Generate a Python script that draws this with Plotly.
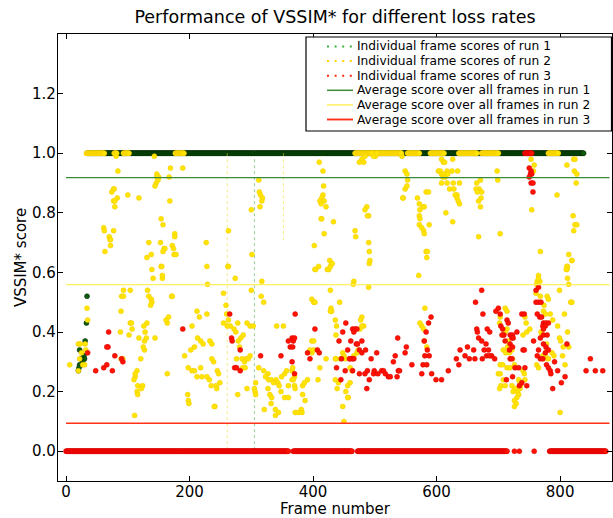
import plotly.graph_objects as go

# ---------------- data ----------------
# Isolated frame scores (frame number, VSSIM* score) for each run
run1_points = [(34, .52), (33, .43), (31, .37), (22, .34), (29, .32), (30, .31), (25, .29),
               (22, .29), (21, .28), (20, .27), (27, .30), (24, .31)]

run2_points = [
    (6, .29), (20, .36), (23, .36), (22, .31), (32, .34), (34, .48), (35, .44), (27, .29), (30, .29),
    (31, .36), (20, .27), (25, .33),
    (81, .99), (84, .94), (77, .88), (78, .88), (74, .87), (83, .85), (77, .84), (79, .84), (79, .82),
    (100, .86), (118, .85), (61, .75), (62, .74), (77, .74), (70, .72), (71, .71), (72, .71), (72, .69),
    (63, .67), (143, .99), (147, .93), (150, .92), (147, .92), (149, .91), (146, .90), (144, .89),
    (169, .95), (167, .92), (168, .84), (189, .95), (154, .78), (157, .76), (176, .73), (176, .72),
    (153, .70), (134, .70), (159, .68), (160, .68), (172, .69), (174, .68), (157, .67), (138, .66),
    (131, .65), (175, .66), (178, .66), (154, .62), (139, .61), (141, .58), (156, .58),
    (227, .70), (263, .74), (262, .62), (274, .58), (301, .66), (300, .81), (312, .91), (313, .87),
    (315, .86), (318, .85), (317, .84), (314, .82),
    (93, .54), (90, .52), (93, .52), (104, .54), (89, .47), (104, .43), (106, .43), (107, .41),
    (102, .39), (88, .40), (89, .31), (92, .31),
    (132, .54), (134, .52), (138, .51), (139, .50), (137, .49), (131, .43), (126, .42), (128, .40),
    (118, .38), (127, .37), (130, .38), (127, .34), (125, .35), (121, .31), (144, .38),
    (115, .27), (112, .25), (110, .24), (112, .26), (124, .22), (122, .21), (116, .22), (115, .20),
    (116, .19), (111, .12),
    (155, .62), (156, .59), (164, .43), (162, .44), (166, .45), (171, .52), (172, .52), (164, .26),
    (204, .42), (212, .47), (216, .45), (228, .46), (208, .35), (202, .34), (218, .37), (222, .36),
    (213, .38), (233, .37), (236, .36), (192, .32), (198, .28), (204, .27), (208, .27), (212, .25),
    (220, .25), (228, .25), (232, .24), (235, .22), (218, .28), (239, .30), (236, .31), (245, .27),
    (247, .26), (249, .23), (243, .22), (244, .21), (241, .15), (240, .15), (197, .19), (198, .17),
    (199, .16),
    (228, .62), (229, .56), (255, .53), (259, .49), (260, .46), (263, .44), (266, .42), (261, .42),
    (255, .43), (263, .62), (272, .41), (275, .40), (278, .43), (283, .38), (287, .39), (279, .37),
    (281, .35), (276, .31), (293, .43), (298, .42), (285, .31), (289, .30), (292, .31), (295, .31),
    (298, .32), (286, .28), (290, .28), (278, .19), (293, .21), (305, .21), (306, .20), (307, .19),
    (307, .23), (303, .42), (300, .54), (316, .52), (320, .50), (317, .57),
    (312, .28), (320, .27), (327, .26), (323, .25), (328, .24), (332, .24), (336, .23), (327, .21),
    (330, .19), (333, .18), (332, .16), (339, .14), (321, .14), (339, .12), (344, .13), (341, .42),
    (352, .42), (340, .24), (343, .23), (345, .22), (348, .20), (349, .25), (354, .26), (357, .27),
    (354, .18), (360, .18), (360, .22), (366, .24), (366, .27), (367, .28), (370, .25), (368, .24),
    (370, .22), (371, .21), (371, .13), (376, .13), (381, .14), (382, .13), (383, .19), (387, .17),
    (383, .22), (386, .23), (391, .24), (395, .34), (398, .33), (401, .34), (398, .37), (401, .37),
    (408, .24), (411, .28), (421, .31), (398, .51), (401, .50), (403, .50), (403, .61), (409, .62),
    (430, .47), (429, .48), (425, .61), (430, .63),
    (427, .64), (491, .63), (571, .59), (466, .57), (465, .56), (490, .55), (428, .54), (428, .47),
    (443, .50), (436, .44), (438, .42), (437, .39), (479, .45), (477, .44), (482, .42), (479, .42),
    (476, .41), (473, .34), (471, .33), (466, .32), (448, .33), (450, .32), (444, .31), (452, .31),
    (437, .31), (436, .31), (460, .28), (463, .27), (436, .24), (441, .23), (439, .21), (456, .22),
    (453, .20), (457, .18), (456, .18), (460, .23), (448, .15), (450, .10),
    (581, .48), (576, .42), (579, .41), (580, .37), (584, .35), (573, .43),
    (711, .48), (714, .47), (703, .45), (702, .43), (714, .41), (711, .40), (708, .39), (716, .37),
    (719, .35), (722, .34), (718, .33), (715, .35), (708, .34), (712, .33), (703, .29), (707, .29),
    (714, .28), (719, .28), (723, .31), (726, .29), (700, .26), (703, .26), (704, .22), (702, .21),
    (708, .24), (711, .22), (722, .22), (727, .21), (724, .20), (731, .20), (735, .21), (733, .24),
    (735, .23), (736, .22), (733, .19), (730, .18), (726, .17), (729, .16), (726, .15), (740, .27),
    (742, .26), (743, .24), (746, .40), (745, .43), (743, .45), (751, .41), (740, .39),
    (765, .59), (767, .57), (763, .57), (762, .56), (761, .53), (768, .52), (773, .47), (776, .46),
    (779, .52), (781, .51), (774, .49), (769, .40), (770, .39), (778, .36), (779, .34), (776, .32),
    (772, .32), (762, .29), (765, .28), (773, .31), (781, .31), (787, .33), (790, .32), (784, .46),
    (788, .44), (796, .42), (799, .38), (801, .37), (804, .32), (808, .29), (805, .35), (812, .40),
    (807, .46), (814, .35), (812, .58), (814, .56), (800, .13), (817, .50), (819, .50), (811, .61),
    (812, .62), (819, .64), (799, .54),
    (410, .97), (416, .94), (417, .89), (416, .86), (414, .85), (411, .84), (413, .83), (418, .84),
    (421, .82), (413, .78), (414, .78), (433, .77), (418, .73), (402, .69), (404, .61), (423, .61),
    (425, .61), (428, .62), (431, .63),
    (479, .98), (475, .97), (482, .97), (484, .99), (495, 1.0), (501, .99), (503, 1.0), (498, .99),
    (487, .82), (484, .81), (490, .79), (488, .79), (468, .74), (469, .72), (490, .70), (492, .64),
    (491, .67),
    (544, .99), (542, 1.0), (549, .94), (552, .93), (553, .91), (549, .88), (552, .89), (546, .85),
    (545, .85), (569, .85), (572, .83), (573, .81), (578, .82), (580, .82), (583, .87), (587, .87),
    (572, .79), (573, .78), (572, .76), (576, .75), (579, .74), (580, .73), (588, .76), (583, .67),
    (585, .67), (584, .65),
    (608, .98), (611, .97), (613, .97), (626, .98), (603, .94), (606, .94), (608, .93), (611, .93),
    (617, .94), (625, .94), (634, .94), (610, .92), (614, .92), (618, .93), (608, .90), (617, .90),
    (627, .90), (637, .90), (621, .88), (628, .88), (633, .86), (630, .86), (633, .85), (635, .84),
    (637, .83), (615, .80), (626, .77),
    (665, .90), (671, .91), (669, .88), (673, .87), (672, .85), (668, .84), (671, .82), (664, .88),
    (666, .87), (698, .94), (699, .91), (668, .72), (703, .73),
    (753, .98), (758, .96), (757, .94), (754, .81), (768, .67), (765, .58), (795, .86), (811, .96),
    (822, .98), (824, .98), (823, .94), (827, .93), (826, .90), (821, .79), (824, .76), (827, .76),
    (822, .74), (814, .66), (819, .64), (811, .62), (810, .61),
]

run3_points = [
    (35, .33), (48, .27), (61, .28), (66, .29), (69, .40), (68, .35), (66, .35), (75, .27), (79, .32),
    (92, .30), (90, .31), (189, .41), (265, .46), (268, .38), (269, .37), (282, .34), (273, .28),
    (276, .28), (282, .27), (315, .32), (348, .32), (371, .46), (360, .37), (366, .38), (368, .37),
    (370, .38), (363, .35), (367, .35), (366, .30), (370, .26), (391, .33), (395, .31), (403, .41),
    (407, .34), (410, .33),
    (673, .54), (663, .50), (675, .46), (453, .43), (464, .41), (468, .41), (471, .41), (466, .40),
    (448, .40), (442, .37), (461, .37), (470, .36), (472, .36), (479, .37), (475, .34), (479, .33),
    (485, .34), (456, .34), (460, .31), (464, .31), (466, .31), (459, .31), (446, .31), (438, .28),
    (452, .27), (464, .27), (475, .26), (484, .26), (494, .31), (503, .33), (488, .27), (499, .27),
    (498, .26), (505, .26), (511, .27), (514, .27), (517, .26), (522, .25), (525, .25), (536, .25),
    (538, .27), (540, .27), (530, .30), (533, .32), (537, .38), (551, .35), (549, .33), (560, .29),
    (491, .24), (487, .21), (445, .24), (578, .29), (576, .26), (584, .29), (580, .37), (585, .34),
    (583, .40), (587, .43), (591, .45), (581, .32), (588, .32), (592, .26), (599, .24), (608, .24),
    (619, .27), (632, .31), (636, .29), (638, .34), (646, .32), (650, .35), (653, .31), (660, .34),
    (665, .41), (666, .40), (662, .31), (668, .38), (673, .37), (674, .31), (677, .34), (681, .32),
    (684, .34), (680, .36), (682, .41), (686, .40), (689, .32), (694, .31), (686, .32), (696, .47),
    (700, .48), (703, .46), (704, .42), (707, .41), (709, .39), (706, .39), (714, .44), (716, .43),
    (711, .37), (719, .39), (723, .39), (722, .38), (724, .38), (719, .36), (718, .34), (723, .35),
    (719, .31), (722, .31), (727, .28), (730, .40), (713, .24), (723, .25), (733, .28), (734, .22),
    (738, .23), (740, .34), (742, .34), (743, .28), (746, .22), (738, .46), (742, .46), (757, .37),
    (761, .54), (765, .55), (761, .50), (765, .50), (769, .50), (763, .46), (767, .45), (770, .45),
    (773, .43), (777, .43), (781, .43), (772, .42), (776, .42), (773, .41), (768, .38), (773, .39),
    (779, .39), (773, .36), (777, .35), (781, .34), (776, .33), (765, .34), (763, .32), (768, .31),
    (772, .31), (778, .29), (781, .28), (784, .27), (785, .26), (788, .21), (791, .30), (796, .27),
    (802, .23), (808, .25), (811, .36), (849, .31), (842, .27), (857, .27), (869, .27),
    (750, .95), (753, .94), (752, .93), (754, .93), (750, .92), (753, .90), (756, .90), (756, .87),
]

# Runs of consecutive frames holding a saturated score: (first frame, last frame, score)
run1_spans = [(35, 304, 1.0), (305, 305, 0.0), (306, 838, 1.0)]
run2_spans = [(33, 62, 1.0), (78, 82, 1.0), (93, 102, 1.0), (177, 191, 1.0), (468, 543, 1.0),
              (553, 572, 1.0), (590, 612, 1.0), (636, 665, 1.0), (673, 700, 1.0), (781, 797, 1.0)]
run3_spans = [(0, 360, 0.0), (368, 463, 0.0), (472, 714, 0.0), (726, 726, 0.0), (734, 734, 0.0),
              (758, 758, 0.0), (783, 874, 0.0), (743, 754, 1.0)]

# Long frame-to-frame drops whose dotted connectors stay visible: (frame, from, to)
run1_drops = [(305, 1.0, 0.0)]
run2_drops = [(261, 1.0, 0.0), (352, 1.0, 0.70)]

# Average score over all frames of each run
avg_scores = [0.918, 0.559, 0.094]
frame_count = 880

run_names = ["run 1", "run 2", "run 3"]
fill_colors = ["#0d5c0d", "#ffe500", "#ff1200"]
edge_colors = ["#042604", "#f2c800", "#d80000"]
drop_colors = ["rgba(60,170,60,0.55)", "rgba(240,215,40,0.55)", "rgba(255,60,40,0.5)"]
legend_dot_colors = ["#3cb03c", "#ffd400", "#ff2a10"]
avg_colors = ["#3b8a3b", "#fff060", "#ff3218"]
avg_widths = [1.2, 1.2, 1.6]
FONT = "DejaVu Sans"


def expand(spans, points):
    xs, ys = [], []
    for first, last, score in spans:
        for f in range(first, last + 1):
            xs.append(f)
            ys.append(score)
    for f, s in points:
        xs.append(f)
        ys.append(s)
    return xs, ys


fig = go.Figure()

runs = [(run1_spans, run1_points, run1_drops),
        (run2_spans, run2_points, run2_drops),
        (run3_spans, run3_points, [])]

for i, (spans, pts, drops) in enumerate(runs):
    # faint dotted connectors of the individual-score line
    for f, a, b in drops:
        fig.add_trace(go.Scatter(x=[f, f], y=[a, b], mode="lines",
                                 line=dict(color=drop_colors[i], width=1, dash="dot"),
                                 showlegend=False, hoverinfo="skip"))
    xs, ys = expand(spans, pts)
    fig.add_trace(go.Scatter(
        x=xs, y=ys, mode="markers", showlegend=False,
        name="Individual frame scores of " + run_names[i],
        marker=dict(size=5, color=fill_colors[i],
                    line=dict(color=edge_colors[i], width=0.5)),
    ))

for i, avg in enumerate(avg_scores):
    fig.add_trace(go.Scatter(
        x=[0, frame_count], y=[avg, avg], mode="lines", showlegend=False,
        name="Average score over all frames in " + run_names[i],
        line=dict(color=avg_colors[i], width=avg_widths[i]),
    ))

# ---------------- layout ----------------
W, H = 613, 518
L, R, T, B = 58, 1, 34, 37
pw, ph = W - L - R, H - T - B


def px_x(p):
    return (p - L) / pw


def px_y(p):
    return (H - B - p) / ph


# Legend box in the upper right of the axes
legend_labels = ["Individual frame scores of " + n for n in run_names] + \
                ["Average score over all frames in " + n for n in run_names]
row_y = [46.5, 61.1, 75.7, 90.3, 104.9, 119.5]
shapes = [dict(type="rect", xref="paper", yref="paper",
               x0=px_x(306), x1=px_x(611.5), y0=px_y(131), y1=px_y(37),
               line=dict(color="black", width=1.2), fillcolor="white", layer="above")]
annotations = []
for k, label in enumerate(legend_labels):
    yk = px_y(row_y[k])
    if k < 3:
        line = dict(color=legend_dot_colors[k], width=2, dash="2px,5.6px")
    else:
        line = dict(color=avg_colors[k - 3], width=avg_widths[k - 3] + 0.3)
    shapes.append(dict(type="line", xref="paper", yref="paper",
                       x0=px_x(327), x1=px_x(353), y0=yk, y1=yk, line=line, layer="above"))
    annotations.append(dict(text=label, xref="paper", yref="paper", x=px_x(356), y=yk,
                            xanchor="left", yanchor="middle", showarrow=False, borderpad=0,
                            font=dict(family=FONT, size=12.2, color="black")))

axis_common = dict(showline=True, linecolor="black", linewidth=1.4, mirror="ticks",
                   ticks="inside", ticklen=5, tickwidth=1, tickcolor="black",
                   showgrid=False, zeroline=False,
                   tickfont=dict(family=FONT, size=15, color="black"))

fig.update_layout(
    width=W, height=H,
    margin=dict(l=L, r=R, t=T, b=B),
    paper_bgcolor="white", plot_bgcolor="white",
    title=dict(text="Performance of VSSIM* for different loss rates",
               font=dict(family=FONT, size=17.5, color="black"),
               x=0.5, xref="paper", xanchor="center", y=1 - 17 / H, yref="container",
               yanchor="middle"),
    xaxis=dict(range=[-13, 884], tickvals=[0, 200, 400, 600, 800], ticklabelstandoff=-3,
               title=dict(text="Frame number", font=dict(family=FONT, size=15, color="black"),
                          standoff=3),
               **axis_common),
    yaxis=dict(range=[-0.1, 1.4], tickvals=[0.0, 0.2, 0.4, 0.6, 0.8, 1.0, 1.2], tickformat=".1f",
               ticklabelstandoff=-2,
               title=dict(text="VSSIM* score", font=dict(family=FONT, size=15, color="black"),
                          standoff=1),
               **axis_common),
    shapes=shapes,
    annotations=annotations,
    showlegend=False,
)

fig.write_html("out.html")
